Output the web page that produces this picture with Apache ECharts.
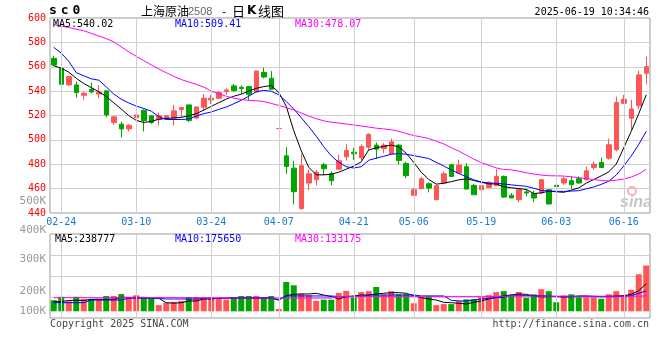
<!DOCTYPE html>
<html><head><meta charset="utf-8">
<script src="https://cdn.jsdelivr.net/npm/echarts@6/dist/echarts.min.js"></script>
<style>html,body{margin:0;padding:0;background:#fff}#c{width:660px;height:360px}</style>
</head><body><div id="c"></div>
<script>
// ---------------- data ----------------
const dates = ['02-21','02-24','02-25','02-26','02-27','02-28','03-03','03-04','03-05','03-06','03-07',
'03-10','03-11','03-12','03-13','03-14','03-17','03-18','03-19','03-20','03-21',
'03-24','03-25','03-26','03-27','03-28','03-31','04-01','04-02','04-03',
'04-07','04-08','04-09','04-10','04-11','04-14','04-15','04-16','04-17','04-18',
'04-21','04-22','04-23','04-24','04-25','04-28','04-29','04-30',
'05-06','05-07','05-08','05-09','05-12','05-13','05-14','05-15','05-16',
'05-19','05-20','05-21','05-22','05-23','05-26','05-27','05-28','05-29','05-30',
'06-03','06-04','06-05','06-06','06-09','06-10','06-11','06-12','06-13',
'06-16','06-17','06-18','06-19'];
const opens  = [566.9,558.7,545.1,545.1,536.6,541.5,537.6,540.2,514.2,512.9,509.0,518.3,524.3,519.7,517.0,517.0,517.8,524.9,528.7,518.0,
526.8,532.8,534.2,539.8,544.3,543.2,543.7,539.3,555.4,550.5,509.3,486.9,476.8,443.6,464.6,467.3,479.6,472.2,476.0,486.1,
489.9,485.3,494.0,495.7,492.9,488.6,495.7,480.7,454.5,459.9,464.0,450.9,464.6,479.6,472.8,478.0,462.7,459.1,461.0,462.4,
470.0,454.5,450.9,457.3,455.9,456.4,459.1,462.7,464.6,466.5,468.1,467.3,477.4,481.5,485.0,491.9,530.0,517.8,527.9,554.6];
const closes = [561.4,545.6,551.9,538.8,538.2,539.3,539.3,520.5,518.9,509.0,512.0,520.5,515.9,514.2,519.7,519.7,523.8,526.5,515.9,527.0,
534.2,534.2,538.8,541.0,540.4,542.1,537.4,556.5,551.6,541.5,509.3,478.2,457.5,478.8,472.2,473.6,476.3,466.5,482.8,491.3,
488.6,494.6,504.4,492.4,495.7,498.4,483.1,470.6,459.1,468.1,460.5,462.4,472.2,470.0,479.3,459.6,455.0,462.4,465.1,470.0,
453.1,452.3,459.1,456.4,452.3,467.3,447.4,461.8,468.1,463.2,464.6,474.6,480.1,477.4,496.0,530.6,533.3,525.4,553.3,560.1];
const lows   = [560.5,543.2,544.5,534.7,532.8,538.2,534.2,518.6,512.3,502.0,506.9,515.1,506.9,513.2,511.8,516.7,511.8,518.6,514.5,517.0,
523.8,529.5,533.6,536.9,539.6,537.7,532.2,538.8,550.5,541.5,509.3,472.2,447.1,442.7,458.6,462.7,471.1,462.7,475.5,483.1,
483.7,483.1,491.9,484.2,489.1,488.3,479.9,468.4,454.5,459.9,456.9,450.9,464.0,470.0,472.8,459.6,455.0,459.1,460.5,462.4,
452.3,452.3,448.7,453.6,448.7,456.4,447.4,461.3,463.2,459.9,464.0,466.8,475.5,476.8,483.7,490.5,529.5,508.2,525.1,545.6];
const highs  = [569.1,560.1,552.5,547.8,539.6,547.0,545.0,541.0,519.7,514.8,512.9,525.1,525.1,520.2,522.6,520.0,528.7,526.8,528.7,527.5,
537.5,536.9,540.2,542.3,545.9,544.8,544.3,556.5,559.3,556.5,509.3,494.0,482.8,488.6,475.5,475.2,481.0,474.0,487.8,496.8,
493.2,496.5,505.5,497.9,497.3,501.1,496.5,482.0,460.5,469.7,465.1,463.2,474.1,480.4,483.7,480.9,464.0,465.9,465.9,476.0,
470.8,456.4,460.5,459.9,458.4,467.8,459.6,468.7,470.0,470.0,470.0,478.2,482.3,485.6,501.1,535.5,536.9,532.8,556.8,568.3];
const volumesK = [95,125,86,125,104,102,108,132,132,148,120,138,115,106,53,74,82,88,123,123,
123,123,115,100,123,132,132,132,123,132,20,252,224,152,138,89,100,100,158,175,
118,165,173,209,143,173,146,146,69,119,132,53,62,62,88,103,106,123,139,165,
173,136,166,116,146,190,173,78,136,146,120,120,120,108,146,173,139,185,318,394];
const ma5 = [560.8,558.8,555.6,550.5,546.3,542.9,539.5,535.5,530.4,525.3,519.9,516.0,514.3,515.2,516.9,517.6,518.0,518.5,519.7,521.5,
524.5,527.5,530.5,533.5,535.8,537.5,540.0,542.3,543.7,544.6,539.0,527.5,507.5,491.0,477.5,471.3,471.3,471.8,473.5,476.0,
478.5,482.0,491.8,493.5,494.7,495.7,494.3,489.0,481.5,473.5,467.5,463.7,464.4,465.7,467.2,468.0,466.7,465.2,463.9,463.8,
461.6,460.7,460.0,459.3,456.0,456.5,457.9,457.4,457.0,458.8,460.6,464.5,467.5,470.5,473.7,480.2,493.5,507.0,521.5,537.0];
const ma10 = [575.9,571.2,564.5,555.2,552.6,550.1,549.0,543.5,537.6,533.4,530.3,527.7,525.8,523.6,519.1,516.8,516.7,516.7,517.2,519.5,
521.5,522.9,525.0,527.0,529.6,532.5,535.8,539.5,540.6,539.9,537.0,531.5,525.3,518.2,510.9,503.0,494.4,486.9,481.6,478.0,
476.9,478.0,483.3,485.0,486.6,488.2,488.8,488.2,487.1,485.9,484.7,481.6,478.6,475.2,472.5,469.8,467.2,465.5,464.5,464.4,
463.8,463.1,462.5,461.9,460.3,458.6,458.0,457.8,457.7,458.0,458.3,459.8,461.4,463.5,466.1,471.2,478.6,486.8,496.3,507.0];
const ma30 = [594.7,593.4,592.1,590.8,589.5,587.4,585.2,583.1,580.4,576.3,572.2,568.6,565.0,561.5,558.2,555.1,552.1,549.5,547.5,545.6,
543.3,540.0,537.8,535.8,534.3,533.1,532.4,532.1,531.5,529.9,528.3,526.5,524.6,522.1,519.5,517.4,515.6,514.5,513.8,513.0,
512.2,511.4,510.5,509.6,509.0,508.3,507.1,505.2,503.6,502.4,501.1,498.9,496.7,493.6,490.8,487.5,484.2,481.3,479.2,477.0,
475.7,475.4,474.3,473.0,472.0,471.1,470.6,470.5,470.3,469.7,469.0,468.2,467.4,466.7,466.3,467.0,467.8,469.5,472.0,476.0];
const volMa5K = [83,83,94,94,94,103,103,103,103,120,120,120,120,112,112,74,70,74,89,89,
106,106,112,112,112,112,112,112,112,112,97,134,146,149,149,155,140,126,106,126,
132,140,140,149,155,160,160,155,134,117,106,97,77,74,69,63,77,89,106,120,
134,140,149,146,132,123,126,129,123,126,132,132,129,126,129,132,134,146,177,238];
const volMa10K = [74,74,74,74,74,97,97,97,97,97,112,112,112,112,112,106,106,106,106,106,
112,112,112,112,117,117,117,117,117,117,100,132,132,132,132,132,132,132,126,126,
126,126,140,140,140,140,140,140,140,132,132,132,132,95,89,89,95,106,112,117,
120,140,138,136,134,134,132,126,126,126,126,126,126,126,126,126,130,134,155,175];
const volMa30K = [117,117,117,117,117,117,117,117,117,117,117,117,117,117,117,117,117,117,117,117,
114,114,114,114,114,114,114,114,114,114,114,114,114,114,114,114,114,114,128,128,
128,128,128,128,128,128,128,128,128,128,128,128,128,128,128,128,128,128,128,128,
130,130,130,130,130,130,130,130,130,130,130,130,130,130,130,130,130,130,130,133];
const dateTicks = ['02-24','03-10','03-24','04-07','04-21','05-06','05-19','06-03','06-16'];
const priceMin = 440, priceMax = 600, priceStep = 20;
const volTickLabels = ['500K','400K','300K','200K','100K'];
const codeChars = ['s','c','0'];
const titleParts = ['上海原油','2508','-','日','K','线图'];
const stamp = '2025-06-19 10:34:46';
const mainLegend = ['MA5:540.02','MA10:509.41','MA30:478.07'];
const volLegend = ['MA5:238777','MA10:175650','MA30:133175'];
const footer = ['Copyright 2025 SINA.COM','http://finance.sina.com.cn'];

// ---------------- styles / layout ----------------
const RED = '#ff5555', GREEN = '#00a600';
const MA_COLORS = ['#000000','#0000ff','#ff00ff'];
const MONO = "'DejaVu Sans Mono', monospace";
const GRID_COLOR = '#cfcfcf';
const PX_PER_VOL = 8600; // volume units per pixel
const VOL_ZERO_OFFSET = 6.7, VOL_H = 84;

const isTick = (i, v) => dateTicks.indexOf(v) >= 0;
const vGridLines = () => ({
  silent: true, symbol: ['none', 'none'],
  label: {show: false},
  lineStyle: {color: GRID_COLOR, type: 'solid', width: 1},
  data: dateTicks.map(d => ({xAxis: d}))
});

const candleData = dates.map((d, i) => {
  const item = {value: [opens[i], closes[i], lows[i], highs[i]]};
  if (opens[i] === closes[i]) item.itemStyle = {color: RED, color0: RED, borderColor: RED, borderColor0: RED};
  return item;
});
const volData = dates.map((d, i) => ({
  value: volumesK[i] * 1000,
  itemStyle: {color: closes[i] >= opens[i] ? RED : GREEN}
}));
const k = a => a.map(v => v * 1000);

function txt(x, y, text, fill, font, align) {
  return {type: 'text', x: x, y: y, silent: true, z: 50,
    style: {text: text, fill: fill, font: font, textAlign: align || 'left', textVerticalAlign: 'middle'}};
}
const graphics = [];
codeChars.forEach((c, j) => graphics.push(txt(53 + j * 11.7, 11, c, '#000', "bold 13px " + MONO, 'center')));
graphics.push(txt(141, 11, titleParts[0], '#000', "12px 'Noto Sans CJK SC'"));
graphics.push(txt(188, 11.5, titleParts[1], '#666', "11px 'Liberation Sans'"));
graphics.push(txt(222, 11, titleParts[2], '#000', "12px 'Noto Sans CJK SC'"));
graphics.push(txt(232, 11, titleParts[3], '#000', "13px 'Noto Sans CJK SC'"));
graphics.push(txt(247, 11, titleParts[4], '#000', "bold 12px 'DejaVu Sans'"));
graphics.push(txt(258, 11, titleParts[5], '#000', "13px 'Noto Sans CJK SC'"));
graphics.push(txt(649, 12, stamp, '#000', "10px " + MONO, 'right'));
const legendX = [53, 175, 295];
mainLegend.forEach((t, j) => graphics.push(txt(legendX[j], 24, t, MA_COLORS[j], "10px " + MONO)));
volLegend.forEach((t, j) => graphics.push(txt(legendX[j] + (j === 0 ? 2 : 0), 239.5, t, MA_COLORS[j], "10px " + MONO)));
const volLabelY = [201, 230, 259, 291, 311];
volTickLabels.forEach((t, j) => graphics.push(txt(46, volLabelY[j], t, '#999', "11px " + MONO, 'right')));
graphics.push(txt(50, 324, footer[0], '#444', "10px " + MONO));
graphics.push(txt(649, 324, footer[1], '#444', "10px " + MONO, 'right'));
graphics.push({type: 'circle', shape: {cx: 632, cy: 191, r: 4}, silent: true, z: 1,
  style: {fill: 'none', stroke: '#f3b3b3', lineWidth: 2}});
graphics.push({type: 'text', x: 620, y: 203, silent: true, z: 1,
  style: {text: 'sina', fill: '#c6c6c6', font: "italic bold 16px 'Liberation Sans'", textAlign: 'left', textVerticalAlign: 'middle'}});

const chart = echarts.init(document.getElementById('c'));
chart.setOption({
  animation: false,
  grid: [
    {left: 50, top: 18, width: 600, height: 195, show: true, borderColor: '#999', borderWidth: 1},
    {left: 50, top: 234, width: 600, height: VOL_H, show: true, borderColor: '#999', borderWidth: 1}
  ],
  xAxis: [
    {type: 'category', gridIndex: 0, data: dates, boundaryGap: true,
      axisLine: {show: false}, axisTick: {show: false},
      axisLabel: {interval: isTick, color: '#1a78d2', fontFamily: MONO, fontSize: 10, margin: 4},
      splitLine: {show: false}},
    {type: 'category', gridIndex: 1, data: dates, boundaryGap: true,
      axisLine: {show: false}, axisTick: {show: false}, axisLabel: {show: false},
      splitLine: {show: false}}
  ],
  yAxis: [
    {type: 'value', gridIndex: 0, min: priceMin, max: priceMax, interval: priceStep,
      axisLine: {show: false}, axisTick: {show: false},
      axisLabel: {color: '#ff0000', fontFamily: MONO, fontSize: 10, margin: 4},
      splitLine: {show: true, lineStyle: {color: GRID_COLOR, type: 'solid', width: 1}}},
    {type: 'value', gridIndex: 1, min: -VOL_ZERO_OFFSET * PX_PER_VOL, max: (VOL_H - VOL_ZERO_OFFSET) * PX_PER_VOL,
      axisLine: {show: false}, axisTick: {show: false}, axisLabel: {show: false}, splitLine: {show: false}},
    {type: 'value', gridIndex: 1, min: 0, max: 4, interval: 1,
      axisLine: {show: false}, axisTick: {show: false}, axisLabel: {show: false},
      splitLine: {show: true, lineStyle: {color: GRID_COLOR, type: 'solid', width: 1}}}
  ],
  series: [
    {type: 'candlestick', xAxisIndex: 0, yAxisIndex: 0, data: candleData, barWidth: 5,
      itemStyle: {color: RED, color0: GREEN, borderColor: RED, borderColor0: GREEN, borderWidth: 1},
      markLine: vGridLines()},
    {type: 'line', xAxisIndex: 0, yAxisIndex: 0, data: ma5, symbol: 'none', lineStyle: {color: MA_COLORS[0], width: 1}},
    {type: 'line', xAxisIndex: 0, yAxisIndex: 0, data: ma10, symbol: 'none', lineStyle: {color: MA_COLORS[1], width: 1}},
    {type: 'line', xAxisIndex: 0, yAxisIndex: 0, data: ma30, symbol: 'none', lineStyle: {color: MA_COLORS[2], width: 1}},
    {type: 'bar', xAxisIndex: 1, yAxisIndex: 1, data: volData, barWidth: 6, markLine: vGridLines()},
    {type: 'line', xAxisIndex: 1, yAxisIndex: 1, data: k(volMa5K), symbol: 'none', lineStyle: {color: MA_COLORS[0], width: 1}},
    {type: 'line', xAxisIndex: 1, yAxisIndex: 1, data: k(volMa10K), symbol: 'none', lineStyle: {color: MA_COLORS[1], width: 1}},
    {type: 'line', xAxisIndex: 1, yAxisIndex: 1, data: k(volMa30K), symbol: 'none', lineStyle: {color: MA_COLORS[2], width: 1}}
  ],
  graphic: graphics
});
</script>
</body></html>
